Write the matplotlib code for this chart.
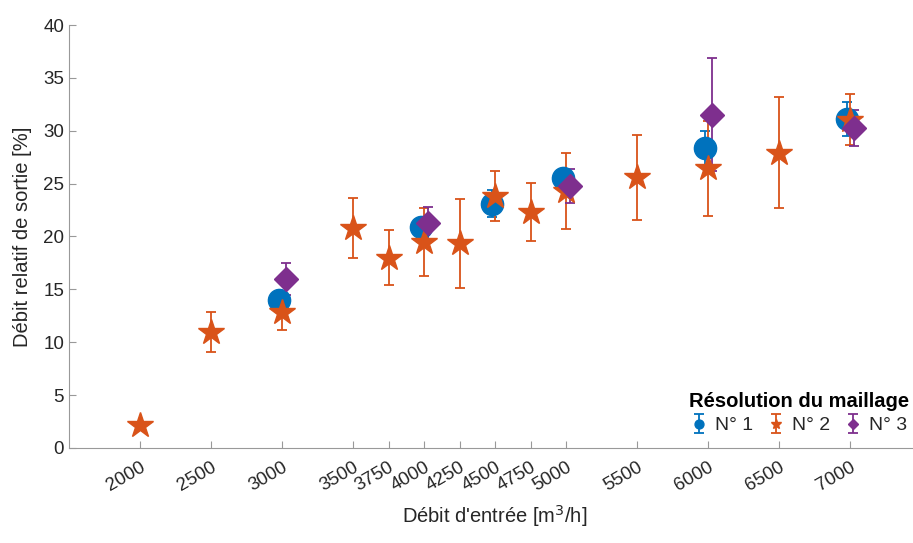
import matplotlib.pyplot as plt
import numpy as np

plt.rcParams["font.family"] = ["Liberation Sans", "DejaVu Sans"]

# N° 2 (finest sweep of inlet flows)
x2 = [2000, 2500, 3000, 3500, 3750, 4000, 4250, 4500, 4750, 5000, 5500, 6000, 6500, 7000]
y2 = [2.2, 11.0, 12.9, 20.8, 18.0, 19.5, 19.35, 23.8, 22.35, 24.3, 25.6, 26.45, 27.9, 31.05]
e2 = [0.0, 1.9, 1.7, 2.8, 2.6, 3.2, 4.2, 2.35, 2.75, 3.6, 4.0, 4.5, 5.25, 2.4]

# N° 1
x1 = [3000, 4000, 4500, 5000, 6000, 7000]
y1 = [14.0, 20.9, 23.1, 25.5, 28.4, 31.1]
e1 = [0.7, 0.6, 1.3, 0.8, 1.6, 1.6]

# N° 3
x3 = [3000, 4000, 5000, 6000, 7000]
y3 = [15.95, 21.25, 24.8, 31.5, 30.3]
e3 = [1.5, 1.5, 1.6, 5.35, 1.7]

xticks = [2000, 2500, 3000, 3500, 3750, 4000, 4250, 4500, 4750, 5000, 5500, 6000, 6500, 7000]
labels = ["N° 1", "N° 2", "N° 3"]

c1, c2, c3 = "#0072BD", "#D95319", "#7E2F8E"
grey = "#262626"

fig = plt.figure(figsize=(9.13, 5.43), dpi=100)
ax = fig.add_axes([69 / 913, 95 / 543, 852 / 913, 423 / 543])

ax.errorbar(np.array(x1) - 20, y1, yerr=e1, fmt="o", color=c1, ms=16, capsize=3.5,
            elinewidth=1.3, capthick=1.3, label=labels[0])
ax.errorbar(x2, y2, yerr=e2, fmt="*", color=c2, ms=19, capsize=3.5,
            elinewidth=1.3, capthick=1.3, label=labels[1])
ax.errorbar(np.array(x3) + 30, y3, yerr=e3, fmt="D", color=c3, ms=12, capsize=3.5,
            elinewidth=1.3, capthick=1.3, label=labels[2])

ax.set_xlim(1500, 7500)
ax.set_ylim(0, 40)
ax.set_yticks(np.arange(0, 41, 5))
ax.set_xticks(xticks)
ax.set_xticklabels([str(t) for t in xticks], rotation=30, ha="right", rotation_mode="anchor")
ax.tick_params(direction="in", length=5, color="#999999", labelcolor=grey, labelsize=13.5)
ax.tick_params(axis="x", pad=8)
for s in ["top", "right"]:
    ax.spines[s].set_visible(False)
for s in ["left", "bottom"]:
    ax.spines[s].set_color("#999999")

ax.set_xlabel("Débit d'entrée [m$^3$/h]", fontsize=14.5, color=grey, labelpad=6)
ax.set_ylabel("Débit relatif de sortie [%]", fontsize=14.5, color=grey, labelpad=8)

leg = ax.legend(loc="lower right", bbox_to_anchor=(927 / 913, 91 / 543),
                bbox_transform=fig.transFigure, ncol=3, frameon=False,
                markerscale=0.4, handlelength=0.7, handletextpad=0.5, columnspacing=0.8,
                fontsize=14, title="Résolution du maillage",
                title_fontproperties={"weight": "bold", "size": 14.5})
leg._legend_box.sep = 4
for t in leg.get_texts():
    t.set_color(grey)

fig.savefig("out.png", dpi=100)
